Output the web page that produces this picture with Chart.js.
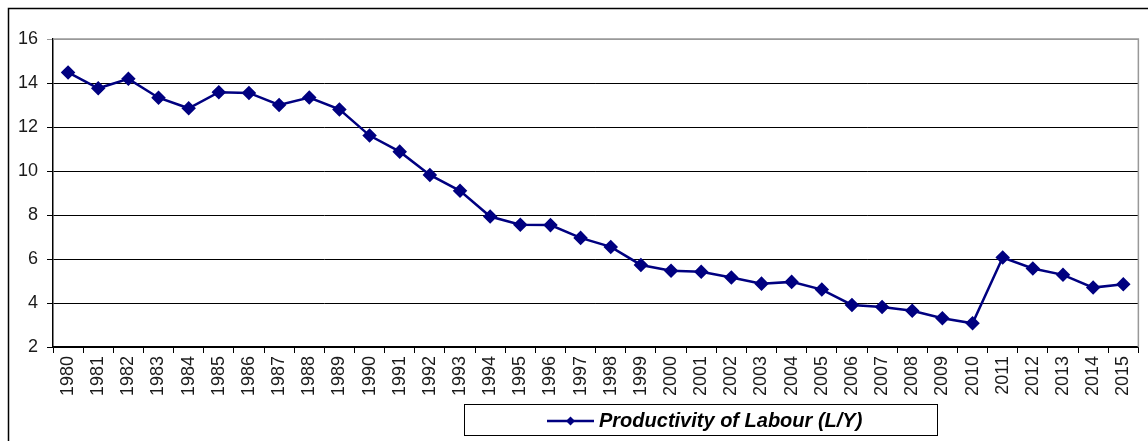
<!DOCTYPE html>
<html lang="en">
<head>
    <meta charset="UTF-8">
    <title>Productivity of Labour</title>
    <script src="https://cdn.jsdelivr.net/npm/chart.js@4.4.0/dist/chart.umd.min.js"></script>
    <style>
        html, body { margin: 0; padding: 0; background: #fff; overflow: hidden; }
        .chart_box { width: 1148px; height: 441px; }
    </style>
</head>
<body>
<div class="chart_box">
    <canvas id="myChart" width="1148" height="441"></canvas>
</div>
<script>
    // 데이터
    var years = ['1980','1981','1982','1983','1984','1985','1986','1987','1988','1989',
                 '1990','1991','1992','1993','1994','1995','1996','1997','1998','1999',
                 '2000','2001','2002','2003','2004','2005','2006','2007','2008','2009',
                 '2010','2011','2012','2013','2014','2015'];
    var productivity = [14.48, 13.76, 14.19, 13.33, 12.85, 13.58, 13.55, 13.0, 13.34, 12.8,
                        11.61, 10.88, 9.82, 9.1, 7.93, 7.56, 7.54, 6.96, 6.55, 5.73,
                        5.47, 5.42, 5.16, 4.88, 4.96, 4.61, 3.91, 3.82, 3.65, 3.31,
                        3.08, 6.07, 5.57, 5.28, 4.7, 4.85];
    var yTicks = [2, 4, 6, 8, 10, 12, 14, 16];
    var seriesLabel = 'Productivity of Labour (L/Y)';
    var navy = '#000080';

    // 바깥 테두리 + 플롯 테두리 + 범례
    var frame = {
        id: 'frame',
        beforeDraw: function(chart) {
            var c = chart.ctx;
            c.save();
            c.fillStyle = '#fff';
            c.fillRect(0, 0, chart.width, chart.height);
            c.strokeStyle = '#000';
            c.lineWidth = 1.5;
            c.strokeRect(8.5, 8.5, 1300, 600);
            c.restore();
        },
        beforeDatasetsDraw: function(chart) {
            var a = chart.chartArea, c = chart.ctx;
            c.save();
            c.strokeStyle = '#999';
            c.lineWidth = 1.5;
            c.beginPath();
            c.moveTo(a.left, a.top);
            c.lineTo(a.right, a.top);
            c.lineTo(a.right, a.bottom);
            c.stroke();
            c.restore();
        },
        afterDraw: function(chart) {
            var c = chart.ctx;
            var ds = chart.data.datasets[0];
            c.save();
            c.strokeStyle = '#000';
            c.lineWidth = 1;
            c.strokeRect(464.5, 404.5, 473, 31);
            c.strokeStyle = ds.borderColor;
            c.lineWidth = 2.5;
            c.beginPath();
            c.moveTo(547, 421);
            c.lineTo(594, 421);
            c.stroke();
            c.fillStyle = ds.borderColor;
            c.beginPath();
            c.moveTo(570.5, 416.5);
            c.lineTo(575, 421);
            c.lineTo(570.5, 425.5);
            c.lineTo(566, 421);
            c.closePath();
            c.fill();
            c.fillStyle = '#000';
            c.font = 'italic bold 20px "Liberation Sans", Arial, sans-serif';
            c.textBaseline = 'middle';
            c.fillText(ds.label, 599, 421);
            c.restore();
        }
    };

    var ctx1 = document.getElementById('myChart').getContext('2d');
    var myChart = new Chart(ctx1, {
        type: 'line',
        data: {
            labels: years,
            datasets: [{
                label: seriesLabel,
                data: productivity,
                borderColor: navy,
                backgroundColor: navy,
                borderWidth: 2.5,
                pointStyle: 'rectRot',
                pointRadius: 5.5,
                pointHoverRadius: 5.5,
                tension: 0
            }]
        },
        options: {
            responsive: false,
            animation: false,
            layout: { padding: { left: 0, right: 7, top: 39, bottom: 0 } },
            plugins: {
                legend: { display: false },
                tooltip: { enabled: false }
            },
            scales: {
                x: {
                    offset: true,
                    grid: {
                        offset: true,
                        drawOnChartArea: false,
                        drawTicks: true,
                        tickLength: 6,
                        color: '#000'
                    },
                    border: { display: true, color: '#000', width: 1.5 },
                    ticks: {
                        autoSkip: false,
                        minRotation: 90,
                        maxRotation: 90,
                        padding: 3,
                        color: '#1a1a1a',
                        font: { family: '"Liberation Sans", Arial, sans-serif', size: 18 }
                    },
                    afterFit: function(scale) { scale.height = 94; }
                },
                y: {
                    min: 2,
                    max: 16,
                    afterBuildTicks: function(scale) {
                        scale.ticks = yTicks.map(function(v) { return { value: v }; });
                    },
                    grid: {
                        color: function(c) { return c.tick && c.tick.value === 16 ? '#999' : '#000'; },
                        lineWidth: 1,
                        tickLength: 6
                    },
                    border: { display: true, color: '#000', width: 1.5 },
                    ticks: {
                        padding: 9,
                        color: '#1a1a1a',
                        font: { family: '"Liberation Sans", Arial, sans-serif', size: 18 }
                    },
                    afterFit: function(scale) { scale.width = 53; }
                }
            }
        },
        plugins: [frame]
    });
</script>
</body>
</html>
